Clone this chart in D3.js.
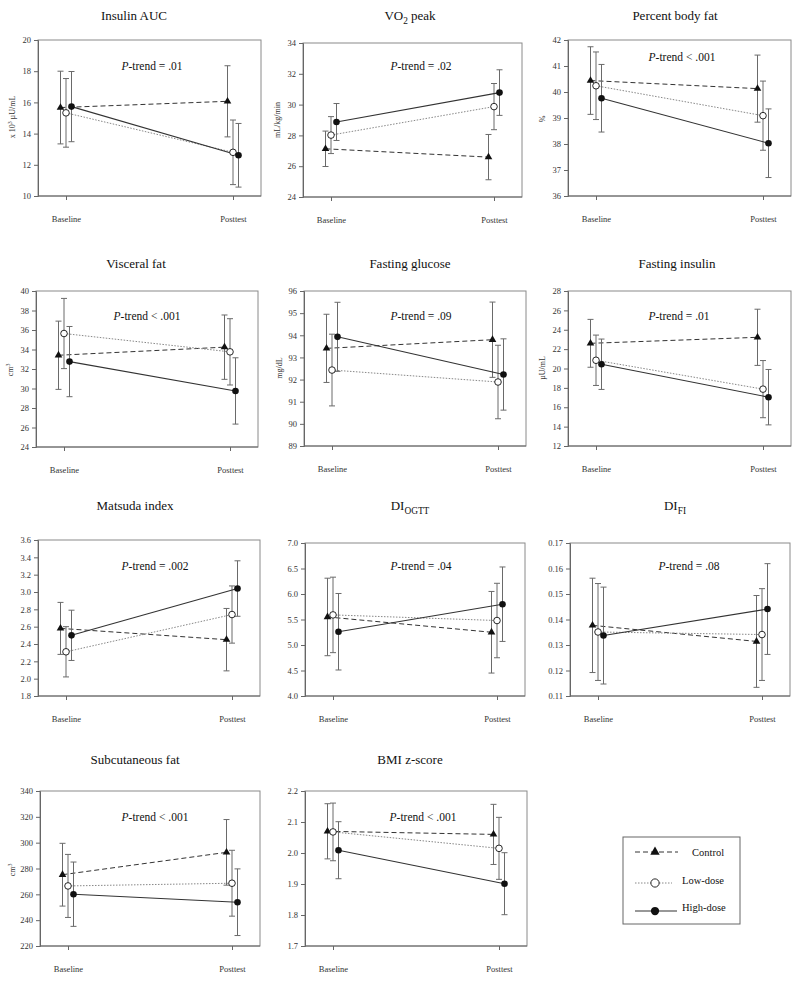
<!DOCTYPE html>
<html>
<head>
<meta charset="utf-8">
<script src="https://cdn.jsdelivr.net/npm/d3@7"></script>
<style>
  body { margin: 0; background: #fff; }
  svg { display: block; }
  text { font-family: "Liberation Serif", "Times New Roman", serif; }
</style>
</head>
<body>
<svg id="chart" width="800" height="981"></svg>
<script>
// ---------------- DATA ----------------
const categories = ["Baseline", "Posttest"];
const groups = ["Control", "Low-dose", "High-dose"];

// Each means/err array: rows = [Control, Low-dose, High-dose], cols = [Baseline, Posttest]
const insulinAucMeans = [[15.67, 16.07], [15.33, 12.80], [15.73, 12.61]];
const insulinAucErr   = [[2.33, 2.28], [2.20, 2.07], [2.25, 2.04]];
const insulinAucTicks = [10, 12, 14, 16, 18, 20];

const vo2Means = [[27.13, 26.59], [28.02, 29.87], [28.87, 30.78]];
const vo2Err   = [[1.15, 1.47], [1.20, 1.50], [1.20, 1.48]];
const vo2Ticks = [24, 26, 28, 30, 32, 34];

const bodyFatMeans = [[40.44, 40.13], [40.24, 39.09], [39.76, 38.03]];
const bodyFatErr   = [[1.30, 1.29], [1.30, 1.33], [1.30, 1.32]];
const bodyFatTicks = [36, 37, 38, 39, 40, 41, 42];

const visceralMeans = [[33.41, 34.24], [35.64, 33.76], [32.76, 29.75]];
const visceralErr   = [[3.50, 3.30], [3.60, 3.40], [3.60, 3.40]];
const visceralTicks = [24, 26, 28, 30, 32, 34, 36, 38, 40];

const glucoseMeans = [[93.41, 93.80], [92.43, 91.89], [93.93, 92.23]];
const glucoseErr   = [[1.54, 1.70], [1.62, 1.66], [1.56, 1.61]];
const glucoseTicks = [89, 90, 91, 92, 93, 94, 95, 96];

const fastInsMeans = [[22.60, 23.22], [20.85, 17.87], [20.44, 17.04]];
const fastInsErr   = [[2.47, 2.90], [2.60, 2.95], [2.60, 2.86]];
const fastInsTicks = [12, 14, 16, 18, 20, 22, 24, 26, 28];

const matsudaMeans = [[2.58, 2.45], [2.31, 2.74], [2.50, 3.04]];
const matsudaErr   = [[0.30, 0.36], [0.29, 0.33], [0.29, 0.32]];
const matsudaTicks = [1.8, 2.0, 2.2, 2.4, 2.6, 2.8, 3.0, 3.2, 3.4, 3.6];

const diOgttMeans = [[5.55, 5.25], [5.59, 5.48], [5.26, 5.80]];
const diOgttErr   = [[0.76, 0.80], [0.74, 0.73], [0.75, 0.73]];
const diOgttTicks = [4.0, 4.5, 5.0, 5.5, 6.0, 6.5, 7.0];

const diFiMeans = [[0.1377, 0.1314], [0.1351, 0.1341], [0.1337, 0.1441]];
const diFiErr   = [[0.0185, 0.0180], [0.0190, 0.0180], [0.0190, 0.0178]];
const diFiTicks = [0.11, 0.12, 0.13, 0.14, 0.15, 0.16, 0.17];

const subcutMeans = [[275.2, 292.5], [266.5, 268.6], [260.1, 253.9]];
const subcutErr   = [[24.3, 25.4], [24.4, 25.5], [24.9, 25.8]];
const subcutTicks = [220, 240, 260, 280, 300, 320, 340];

const bmiMeans = [[2.070, 2.060], [2.068, 2.015], [2.009, 1.901]];
const bmiErr   = [[0.089, 0.097], [0.093, 0.100], [0.092, 0.100]];
const bmiTicks = [1.7, 1.8, 1.9, 2.0, 2.1, 2.2];

const pTrends = ["= .01", "= .02", "< .001", "< .001", "= .09", "= .01", "= .002", "= .04", "= .08", "< .001", "< .001"];

// ---------------- LAYOUT ----------------
const panels = [
  { title: "Insulin AUC", means: insulinAucMeans, err: insulinAucErr, ticks: insulinAucTicks, fmt: "d", ylab: "x 10^3^ µU/mL",
    box: [38, 261, 40, 196], tx: 134, ty: 20, px: 152, py: 66, lx: 15, ly: 117 },
  { title: "VO|2| peak", means: vo2Means, err: vo2Err, ticks: vo2Ticks, fmt: "d", ylab: "mL/kg/min",
    box: [303, 522, 43, 197], tx: 410, ty: 20, px: 421, py: 66, lx: 280, ly: 120 },
  { title: "Percent body fat", means: bodyFatMeans, err: bodyFatErr, ticks: bodyFatTicks, fmt: "d", ylab: "%",
    box: [568, 791, 40, 196], tx: 675, ty: 20, px: 682, py: 57, lx: 545, ly: 119 },
  { title: "Visceral fat", means: visceralMeans, err: visceralErr, ticks: visceralTicks, fmt: "d", ylab: "cm^3^",
    box: [36, 258, 291, 447], tx: 136, ty: 268, px: 147, py: 316, lx: 13, ly: 370 },
  { title: "Fasting glucose", means: glucoseMeans, err: glucoseErr, ticks: glucoseTicks, fmt: "d", ylab: "mg/dL",
    box: [304, 526, 291, 446], tx: 410, ty: 268, px: 421, py: 316, lx: 282, ly: 368 },
  { title: "Fasting insulin", means: fastInsMeans, err: fastInsErr, ticks: fastInsTicks, fmt: "d", ylab: "µU/mL",
    box: [568, 791, 291, 446], tx: 677, ty: 268, px: 679, py: 316, lx: 545, ly: 368 },
  { title: "Matsuda index", means: matsudaMeans, err: matsudaErr, ticks: matsudaTicks, fmt: ".1f", ylab: "",
    box: [38, 260, 540, 696], tx: 135, ty: 510, px: 155, py: 566, lx: 0, ly: 0 },
  { title: "DI|OGTT|", means: diOgttMeans, err: diOgttErr, ticks: diOgttTicks, fmt: ".1f", ylab: "",
    box: [305, 525, 543, 696], tx: 410, ty: 510, px: 421, py: 566, lx: 0, ly: 0 },
  { title: "DI|FI|", means: diFiMeans, err: diFiErr, ticks: diFiTicks, fmt: ".2f", ylab: "",
    box: [570, 790, 543, 696], tx: 675, ty: 510, px: 689, py: 566, lx: 0, ly: 0 },
  { title: "Subcutaneous fat", means: subcutMeans, err: subcutErr, ticks: subcutTicks, fmt: "d", ylab: "cm^3^",
    box: [40, 260, 791, 946], tx: 135, ty: 764, px: 155, py: 817, lx: 15, ly: 870 },
  { title: "BMI z-score", means: bmiMeans, err: bmiErr, ticks: bmiTicks, fmt: ".1f", ylab: "",
    box: [305, 527, 791, 946], tx: 410, ty: 764, px: 423, py: 817, lx: 0, ly: 0 }
];

const groupOffset = [-5.5, 0, 5.5];
const lineStyle = [
  { dash: "5,3", color: "#333", width: 1 },
  { dash: "1.5,1.5", color: "#888", width: 1 },
  { dash: null, color: "#333", width: 1.1 }
];
const axisColor = "#666";
const errColor = "#6a6a6a";

const svg = d3.select("#chart");

// helper: text with |sub| and ^sup^ markup
function richText(sel, str, size) {
  const parts = str.split(/(\|[^|]*\||\^[^^]*\^)/).filter(s => s.length);
  let pending = 0;
  parts.forEach(p => {
    if (p.startsWith("|")) {
      const sh = size * 0.3;
      sel.append("tspan").attr("dy", sh + pending).attr("font-size", size * 0.72).text(p.slice(1, -1));
      pending = -sh;
    } else if (p.startsWith("^")) {
      const sh = -size * 0.4;
      sel.append("tspan").attr("dy", sh + pending).attr("font-size", size * 0.72).text(p.slice(1, -1));
      pending = -sh;
    } else {
      sel.append("tspan").attr("dy", pending).text(p);
      pending = 0;
    }
  });
}

function marker(g, type, x, y, size) {
  if (type === 0) {
    g.append("path")
      .attr("d", d3.symbol().type(d3.symbolTriangle).size(size * 4.2)())
      .attr("transform", `translate(${x},${y})`)
      .attr("fill", "#111");
  } else if (type === 1) {
    g.append("circle").attr("cx", x).attr("cy", y).attr("r", size * 0.55)
      .attr("fill", "#fff").attr("stroke", "#111").attr("stroke-width", 0.9);
  } else {
    g.append("circle").attr("cx", x).attr("cy", y).attr("r", size * 0.55)
      .attr("fill", "#111");
  }
}

panels.forEach((p, i) => {
  const [L, R, T, B] = p.box;
  const g = svg.append("g");
  const y = d3.scaleLinear().domain(d3.extent(p.ticks)).range([B, T]);
  const x = d3.scalePoint().domain(categories).range([L + 28, R - 28]);

  // frame
  g.append("rect").attr("x", L).attr("y", T).attr("width", R - L).attr("height", B - T)
    .attr("fill", "none").attr("stroke", "#8a8a8a").attr("stroke-width", 1);

  // y axis
  const yAxis = d3.axisLeft(y).tickValues(p.ticks).tickSize(4).tickPadding(3)
    .tickFormat(d3.format(p.fmt));
  const ya = g.append("g").attr("transform", `translate(${L},0)`).call(yAxis);
  ya.attr("font-family", null);
  ya.select(".domain").attr("stroke", axisColor);
  ya.selectAll(".tick line").attr("stroke", axisColor);
  ya.selectAll(".tick text").attr("fill", "#333").attr("font-size", 8.5);

  // x axis
  const xAxis = d3.axisBottom(x).tickSize(4).tickPadding(16);
  const xa = g.append("g").attr("transform", `translate(0,${B})`).call(xAxis);
  xa.attr("font-family", null);
  xa.select(".domain").attr("stroke", axisColor).attr("d", `M${L},0H${R}`);
  xa.selectAll(".tick line").attr("stroke", axisColor);
  xa.selectAll(".tick text").attr("fill", "#333").attr("font-size", 8.5);

  // title
  const t = g.append("text").attr("x", p.tx).attr("y", p.ty).attr("text-anchor", "middle")
    .attr("font-size", 13).attr("fill", "#111");
  richText(t, p.title, 13);

  // y label
  if (p.ylab) {
    const yl = g.append("text").attr("transform", `translate(${p.lx},${p.ly}) rotate(-90)`)
      .attr("text-anchor", "middle").attr("font-size", 8).attr("fill", "#333");
    richText(yl, p.ylab, 8);
  }

  // p-trend
  const pt = g.append("text").attr("x", p.px).attr("y", p.py + 4).attr("text-anchor", "middle")
    .attr("font-size", 11.5).attr("fill", "#111");
  pt.append("tspan").attr("font-style", "italic").text("P");
  pt.append("tspan").text("-trend " + pTrends[i]);

  // series
  groups.forEach((grp, gi) => {
    const pts = categories.map((c, ci) => ({
      x: x(c) + groupOffset[gi],
      m: p.means[gi][ci],
      e: p.err[gi][ci]
    }));
    // error bars
    pts.forEach(d => {
      const y1 = y(d.m + d.e), y0 = y(d.m - d.e);
      g.append("line").attr("x1", d.x).attr("x2", d.x).attr("y1", y1).attr("y2", y0)
        .attr("stroke", errColor).attr("stroke-width", 1);
      [y1, y0].forEach(yy => g.append("line").attr("x1", d.x - 3).attr("x2", d.x + 3)
        .attr("y1", yy).attr("y2", yy).attr("stroke", errColor).attr("stroke-width", 1));
    });
    // line
    const ls = lineStyle[gi];
    g.append("path").datum(pts)
      .attr("d", d3.line().x(d => d.x).y(d => y(d.m)))
      .attr("fill", "none").attr("stroke", ls.color).attr("stroke-width", ls.width)
      .attr("stroke-dasharray", ls.dash);
  });
  groups.forEach((grp, gi) => {
    categories.forEach((c, ci) => {
      marker(g, gi, x(c) + groupOffset[gi], y(p.means[gi][ci]), 6);
    });
  });
});

// ---------------- LEGEND ----------------
const lg = svg.append("g");
lg.append("rect").attr("x", 623).attr("y", 837).attr("width", 117).attr("height", 87)
  .attr("fill", "none").attr("stroke", "#666").attr("stroke-width", 1);
const legendRows = [
  { ly: 852, x2: 678, ty: 852, tx: 692 },
  { ly: 883, x2: 672, ty: 880, tx: 682 },
  { ly: 911, x2: 677, ty: 907, tx: 682 }
];
groups.forEach((grp, gi) => {
  const r = legendRows[gi], ls = lineStyle[gi];
  lg.append("line").attr("x1", 635).attr("x2", r.x2).attr("y1", r.ly).attr("y2", r.ly)
    .attr("stroke", ls.color).attr("stroke-width", ls.width).attr("stroke-dasharray", ls.dash);
  marker(lg, gi, 655, r.ly, gi === 0 ? 9 : 7.5);
  lg.append("text").attr("x", r.tx).attr("y", r.ty + 4).attr("font-size", 10.5).attr("fill", "#111").text(grp);
});
</script>
</body>
</html>
